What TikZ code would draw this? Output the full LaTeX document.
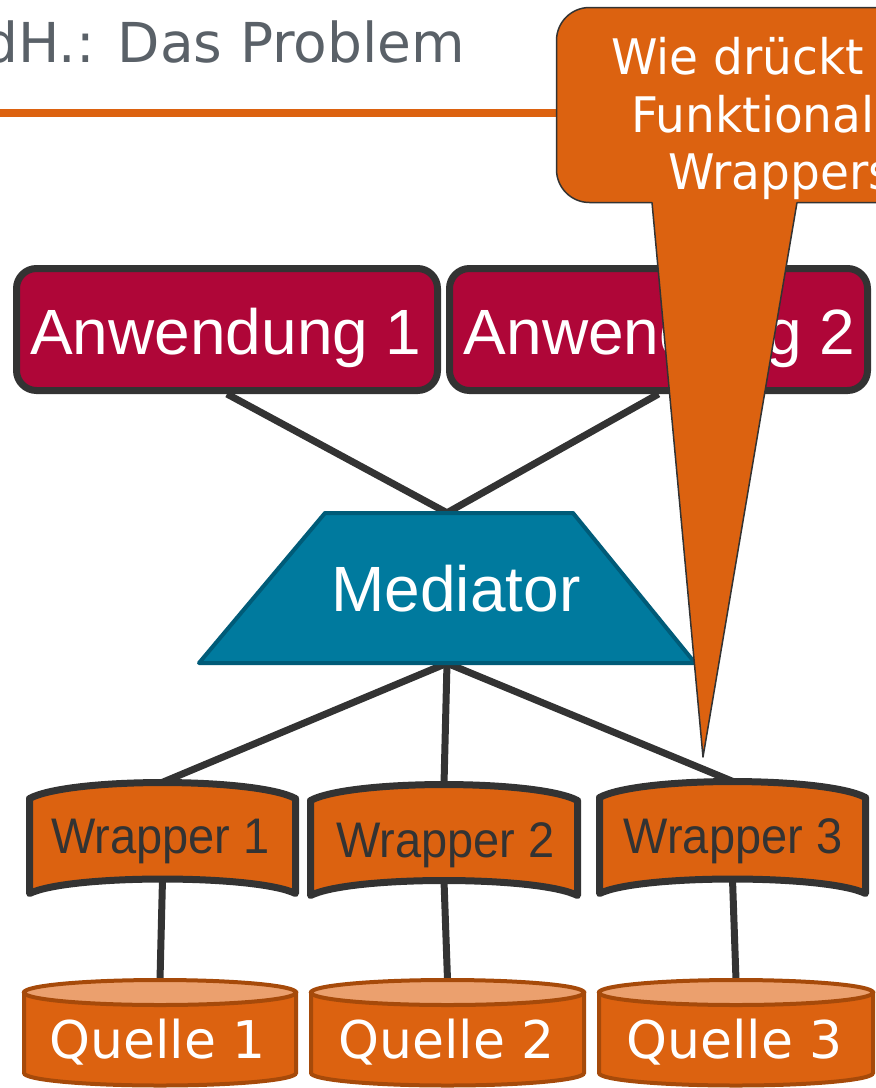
\documentclass[tikz,border=0pt]{standalone}
\usepackage{fontspec}
\usepackage{graphicx}
\setmainfont{DejaVu Sans}
\newfontfamily\arialfont{Liberation Sans}
\newfontfamily\vfont{DejaVu Sans}
\usetikzlibrary{backgrounds}
\definecolor{orangeC}{HTML}{DC6210}
\definecolor{crimsonC}{HTML}{AF0638}
\definecolor{tealC}{HTML}{007A9E}
\definecolor{tealD}{HTML}{005B78}
\definecolor{darkC}{HTML}{333333}
\definecolor{grayT}{HTML}{5A6168}
\definecolor{peachC}{HTML}{EBA06E}
\definecolor{brownC}{HTML}{A64A0A}
\begin{document}
\begin{tikzpicture}[x=1pt,y=-1pt,
  appbox/.style={draw=darkC,line width=7pt,fill=crimsonC,rounded corners=20pt,minimum height=122pt,inner sep=0pt},
  apptext/.style={anchor=base,text=white,font=\arialfont\fontsize{64}{70}\selectfont,inner sep=0pt},
  hidden/.style={draw=none,fill=none,inner sep=0pt,rectangle},
  medshape/.style={fill=tealC,draw=tealD,line width=4pt,line join=round},
  wrapshape/.style={fill=orangeC,draw=darkC,line width=7pt,line join=round},
  wraptext/.style={anchor=base,text=darkC,font=\arialfont\fontsize{50}{56}\selectfont,inner sep=0pt},
  cylbody/.style={fill=orangeC,draw=brownC,line width=4pt},
  cyltop/.style={fill=peachC,draw=brownC,line width=4pt},
  cyltext/.style={anchor=base,text=white,font=\vfont\fontsize{52}{58}\selectfont,inner sep=0pt},
  conn/.style={draw=darkC,line width=7pt},
  rulestyle/.style={draw=orangeC,line width=7.5pt},
  calloutshape/.style={fill=orangeC,draw=darkC,line width=1.5pt,line join=round},
  callouttext/.style={anchor=base west,text=white,font=\vfont\fontsize{49}{56}\selectfont,inner sep=0pt},
  titletext/.style={anchor=base west,text=grayT,font=\vfont\fontsize{55}{60}\selectfont,inner sep=0pt}]
\useasboundingbox (0,0) rectangle (876,1088);
\clip (0,0) rectangle (876,1088);

% title and rule
\node[titletext] (title) at (-17,62) {dH.: Das Problem};
\draw[rulestyle] (0,113) -- (560,113);

% applications
\node[appbox,minimum width=421pt] (a1) at (227,329.5) {};
\node[apptext] (a1t) at (226,354) {Anwendung 1};
\node[appbox,minimum width=418pt] (a2) at (658.5,329.5) {};
\node[apptext] (a2t) at (659.5,354) {Anwendung 2};

% mediator
\draw[medshape] (199,663) -- (695,663) -- (573,513) -- (325,513) -- cycle;
\node[hidden,minimum width=496pt,minimum height=150pt] (med) at (447,588) {};
\node[apptext] (medt) at (456,611) {Mediator};

% wrappers
\draw[wrapshape] (29.5,798.5) .. controls (69.4,777.2) and (255.6,777.2) .. (295.5,798.5)
  -- (295.5,893.5) .. controls (255.6,874.2) and (69.4,874.2) .. (29.5,893.5) -- cycle;
\node[hidden,minimum width=266pt,minimum height=96.5pt] (w1) at (162.5,830.75) {};
\node[wraptext] (w1t) at (160.5,853) {\scalebox{0.94}[1]{Wrapper 1}};

\draw[wrapshape] (310.5,800.5) .. controls (350.5,779.2) and (537.5,779.2) .. (577.5,800.5)
  -- (577.5,895.5) .. controls (537.5,875.5) and (350.5,875.5) .. (310.5,895.5) -- cycle;
\node[hidden,minimum width=267pt,minimum height=96pt] (w2) at (444,832.5) {};
\node[wraptext] (w2t) at (445.5,857) {\scalebox{0.94}[1]{Wrapper 2}};

\draw[wrapshape] (599.5,797.5) .. controls (639.4,776.2) and (825.6,776.2) .. (865.5,797.5)
  -- (865.5,893.5) .. controls (825.6,874.2) and (639.4,874.2) .. (599.5,893.5) -- cycle;
\node[hidden,minimum width=266pt,minimum height=97.5pt] (w3) at (732.5,830.25) {};
\node[wraptext] (w3t) at (733,853) {\scalebox{0.94}[1]{Wrapper 3}};

% sources
\draw[cylbody] (24,992.5) -- (24,1073) arc[start angle=180,end angle=360,x radius=136pt,y radius=12.5pt] -- (296,992.5) -- cycle;
\draw[cyltop] (160,992.5) ellipse [x radius=136pt,y radius=12.5pt];
\node[hidden,minimum width=272pt,minimum height=106pt] (q1) at (160,1033) {};
\node[cyltext] (q1t) at (157.5,1058) {Quelle 1};

\draw[cylbody] (311,992.5) -- (311,1073) arc[start angle=180,end angle=360,x radius=136.5pt,y radius=12.5pt] -- (584,992.5) -- cycle;
\draw[cyltop] (447.5,992.5) ellipse [x radius=136.5pt,y radius=12.5pt];
\node[hidden,minimum width=273pt,minimum height=106pt] (q2) at (447.5,1033) {};
\node[cyltext] (q2t) at (446.5,1058) {Quelle 2};

\draw[cylbody] (599,992.5) -- (599,1073) arc[start angle=180,end angle=360,x radius=137pt,y radius=12.5pt] -- (873,992.5) -- cycle;
\draw[cyltop] (736,992.5) ellipse [x radius=137pt,y radius=12.5pt];
\node[hidden,minimum width=274pt,minimum height=106pt] (q3) at (736,1033) {};
\node[cyltext] (q3t) at (734.5,1058) {Quelle 3};

% connectors
\begin{scope}[on background layer]
\draw[conn] (a1.south) -- (med.north);
\draw[conn] (a2.south) -- (med.north);
\draw[conn] (med.south) -- (w1.north);
\draw[conn] (med.south) -- (w2.north);
\draw[conn] (med.south) -- (w3.north);
\draw[conn] (w1.south) -- (q1.north);
\draw[conn] (w2.south) -- (q2.north);
\draw[conn] (w3.south) -- (q3.north);
\end{scope}

% callout
\draw[calloutshape,rounded corners=33pt] (556.5,7.5) rectangle (920,202.5);
\fill[orangeC] (651.4,195) -- (703,757) -- (798.2,195) -- cycle;
\draw[calloutshape,fill=none] (652,202.5) -- (703,757) -- (797,202.5);
\node[callouttext] (ct1) at (611,74) {\scalebox{0.96}[1]{Wie drückt}};
\node[callouttext] (ct2) at (631,132) {\scalebox{0.96}[1]{Funktional}};
\node[callouttext] (ct3) at (668,189) {\scalebox{0.96}[1]{Wrappers}};
\end{tikzpicture}
\end{document}
